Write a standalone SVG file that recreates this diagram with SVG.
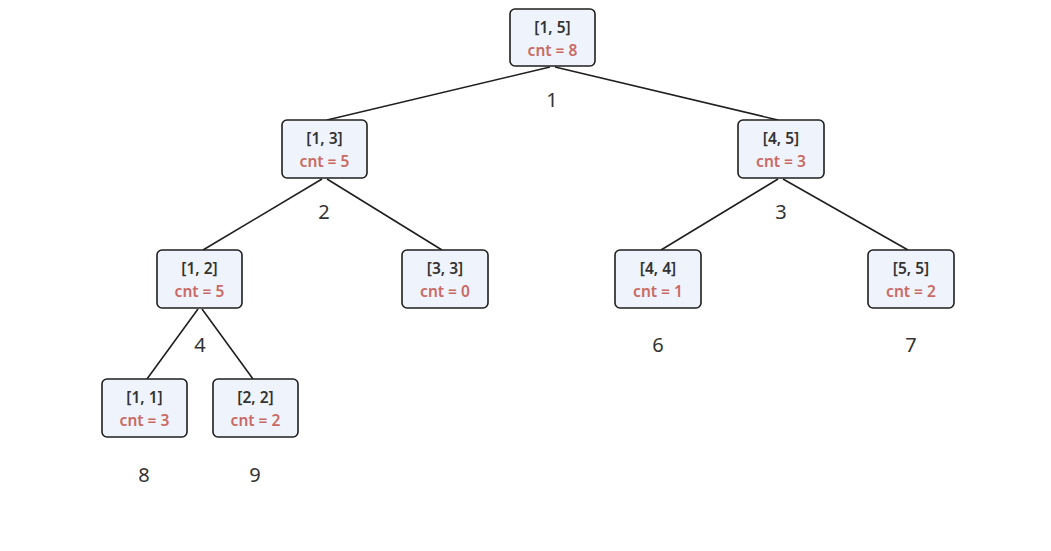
<svg xmlns="http://www.w3.org/2000/svg" width="1051" height="551" viewBox="0 0 1051 551">
<style>
.box{fill:#eff3fb;stroke:#1f1f1f;stroke-width:1.6}
.t{font-family:"Noto Sans",sans-serif;font-size:15.5px;font-weight:600;fill:#333;text-anchor:middle}
.c{font-family:"Noto Sans",sans-serif;font-size:15.5px;font-weight:600;fill:#c96a64;text-anchor:middle}
.lbl{font-family:"Noto Sans",sans-serif;font-size:20px;fill:#333;text-anchor:middle}
.e{stroke:#1f1f1f;stroke-width:1.6;fill:none}
</style>
<rect width="1051" height="551" fill="#fff"/>
<g id="connectors">
<line class="e" x1="550" y1="67" x2="327" y2="120"/>
<line class="e" x1="555" y1="67" x2="778" y2="120"/>
<line class="e" x1="322" y1="179" x2="203" y2="250"/>
<line class="e" x1="327" y1="179" x2="442" y2="250"/>
<line class="e" x1="778" y1="179" x2="661" y2="250"/>
<line class="e" x1="783" y1="179" x2="908" y2="250"/>
<line class="e" x1="198" y1="309" x2="147" y2="379"/>
<line class="e" x1="202" y1="309" x2="253" y2="379"/>
<text class="lbl" x="552" y="107">1</text>
<text class="lbl" x="324" y="219">2</text>
<text class="lbl" x="781" y="219">3</text>
<text class="lbl" x="200" y="352">4</text>
<text class="lbl" x="658" y="352">6</text>
<text class="lbl" x="911" y="352">7</text>
<text class="lbl" x="144" y="482">8</text>
<text class="lbl" x="255" y="482">9</text>
</g>
<g id="n15"><rect class="box" x="510" y="9" width="85" height="57" rx="5"/><text class="t" x="552.5" y="33">[1, 5]</text><text class="c" x="552.5" y="56">cnt = 8</text></g>
<g id="n13"><rect class="box" x="282" y="120" width="85" height="58" rx="5"/><text class="t" x="324.5" y="144">[1, 3]</text><text class="c" x="324.5" y="167">cnt = 5</text></g>
<g id="n45"><rect class="box" x="738" y="120" width="86" height="58" rx="5"/><text class="t" x="781" y="144">[4, 5]</text><text class="c" x="781" y="167">cnt = 3</text></g>
<g id="n12"><rect class="box" x="157" y="250" width="85" height="58" rx="5"/><text class="t" x="199.5" y="274">[1, 2]</text><text class="c" x="199.5" y="297">cnt = 5</text></g>
<g id="n33"><rect class="box" x="402" y="250" width="86" height="58" rx="5"/><text class="t" x="445" y="274">[3, 3]</text><text class="c" x="445" y="297">cnt = 0</text></g>
<g id="n44"><rect class="box" x="615" y="250" width="86" height="58" rx="5"/><text class="t" x="658" y="274">[4, 4]</text><text class="c" x="658" y="297">cnt = 1</text></g>
<g id="n55"><rect class="box" x="868" y="250" width="86" height="58" rx="5"/><text class="t" x="911" y="274">[5, 5]</text><text class="c" x="911" y="297">cnt = 2</text></g>
<g id="n11"><rect class="box" x="102" y="379" width="85" height="58" rx="5"/><text class="t" x="144.5" y="403">[1, 1]</text><text class="c" x="144.5" y="426">cnt = 3</text></g>
<g id="n22"><rect class="box" x="213" y="379" width="85" height="58" rx="5"/><text class="t" x="255.5" y="403">[2, 2]</text><text class="c" x="255.5" y="426">cnt = 2</text></g>
</svg>
